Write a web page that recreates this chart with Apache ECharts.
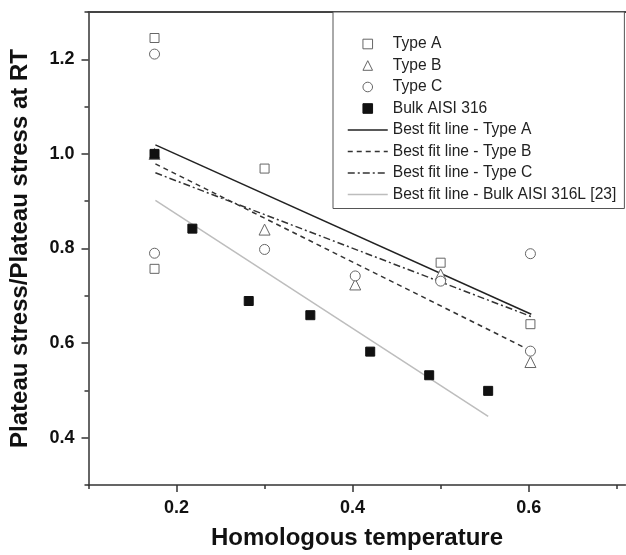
<!DOCTYPE html>
<html lang="en">
<head>
    <meta charset="UTF-8">
    <title>Plateau stress vs homologous temperature</title>
    <style>
        * { margin: 0; padding: 0; }
        body { background: #fff; }
        #chart { width: 626px; height: 555px; }
    </style>
</head>
<body>
    <div id="chart"></div>

    <script src="https://cdn.jsdelivr.net/npm/echarts@6/dist/echarts.min.js"></script>
    <script>
        // measured points [homologous temperature, normalised plateau stress]
        const typeA = [[0.175, 1.245], [0.175, 0.757], [0.300, 0.969], [0.500, 0.770], [0.602, 0.640]];
        const typeB = [[0.175, 1.000], [0.300, 0.840], [0.403, 0.724], [0.500, 0.745], [0.602, 0.560]];
        const typeC = [[0.175, 1.211], [0.175, 0.790], [0.300, 0.798], [0.403, 0.742], [0.500, 0.731], [0.602, 0.789], [0.602, 0.583]];
        const bulk = [[0.175, 1.000], [0.218, 0.842], [0.282, 0.689], [0.352, 0.659], [0.420, 0.582], [0.487, 0.532], [0.554, 0.499]];

        // best fit lines (end points)
        const fitA = [[0.176, 1.019], [0.603, 0.661]];
        const fitB = [[0.176, 0.979], [0.598, 0.588]];
        const fitC = [[0.176, 0.960], [0.603, 0.656]];
        const fitBulk = [[0.176, 0.902], [0.554, 0.445]];

        // ticks
        const xMajorTicks = [0.2, 0.4, 0.6];
        const xMinorTicks = [0.1, 0.3, 0.5, 0.7];
        const yMajorTicks = [0.4, 0.6, 0.8, 1.0, 1.2];
        const yMinorTicks = [0.3, 0.5, 0.7, 0.9, 1.1, 1.3];

        const FONT = 'Liberation Sans, Arial, sans-serif';
        const axisColor = '#333';
        const markerGray = '#666';

        const tickLabel = {
            fontFamily: FONT, fontSize: 18, fontWeight: 'bold', color: '#111',
            formatter: v => Number(v).toFixed(1)
        };
        const axisTitle = { fontFamily: FONT, fontSize: 24, fontWeight: 'bold', color: '#111' };

        // hollow markers are drawn as line series with no visible line,
        // so the legend keeps the marker square-sized
        function markers(name, data, symbol, size, fill, stroke) {
            return {
                name: name, type: 'line', data: data,
                symbol: symbol, symbolSize: size, showSymbol: true,
                lineStyle: { width: 0, opacity: 0 },
                itemStyle: { color: fill, borderColor: stroke, borderWidth: 1 },
                z: 3
            };
        }
        function fitLine(name, data, color, type) {
            return {
                name: name, type: 'line', data: data, symbol: 'none',
                lineStyle: { color: color, width: 1.5, type: type },
                itemStyle: { color: color, opacity: 0 },
                z: 2
            };
        }

        const chart = echarts.init(document.getElementById('chart'));
        chart.setOption({
            animation: false,
            backgroundColor: '#fff',
            grid: { left: 88.5, right: 0.5, top: 12, bottom: 69 },
            legend: {
                orient: 'vertical',
                left: 333, top: 12,
                padding: [24, 8, 6, 14],
                itemWidth: 40, itemHeight: 12, itemGap: 5.5,
                backgroundColor: '#fff',
                borderColor: '#555', borderWidth: 1,
                selectedMode: false,
                itemStyle: { borderWidth: 1 },
                lineStyle: { width: 'inherit' },
                textStyle: { fontFamily: FONT, fontSize: 15.6, color: '#222' },
                data: ['Type A', 'Type B', 'Type C', 'Bulk AISI 316',
                    'Best fit line - Type A', 'Best fit line - Type B',
                    'Best fit line - Type C', 'Best fit line - Bulk AISI 316L [23]']
            },
            xAxis: [
                {
                    type: 'value', min: 0.1, max: 0.71, position: 'bottom',
                    name: 'Homologous temperature', nameLocation: 'middle', nameGap: 41,
                    nameTextStyle: axisTitle,
                    axisLine: { lineStyle: { color: axisColor, width: 1.5 } },
                    axisTick: { customValues: xMajorTicks, length: 7, lineStyle: { color: axisColor, width: 1.5 } },
                    axisLabel: Object.assign({ customValues: xMajorTicks, margin: 14 }, tickLabel),
                    splitLine: { show: false }
                },
                {
                    type: 'value', min: 0.1, max: 0.71, position: 'bottom',
                    axisLine: { show: false },
                    axisTick: { customValues: xMinorTicks, length: 4, lineStyle: { color: axisColor, width: 1.5 } },
                    axisLabel: { show: false },
                    splitLine: { show: false }
                },
                {
                    type: 'value', min: 0.1, max: 0.71, position: 'top',
                    axisLine: { lineStyle: { color: '#444', width: 2 } },
                    axisTick: { show: false },
                    axisLabel: { show: false },
                    splitLine: { show: false }
                }
            ],
            yAxis: [
                {
                    type: 'value', min: 0.3, max: 1.3, position: 'left',
                    name: 'Plateau stress/Plateau stress at RT', nameLocation: 'middle',
                    nameRotate: 90, nameGap: 56,
                    nameTextStyle: axisTitle,
                    axisLine: { show: true, lineStyle: { color: axisColor, width: 1.5 } },
                    axisTick: { show: true, customValues: yMajorTicks, length: 7, lineStyle: { color: axisColor, width: 1.5 } },
                    axisLabel: Object.assign({ customValues: yMajorTicks, margin: 14 }, tickLabel),
                    splitLine: { show: false }
                },
                {
                    type: 'value', min: 0.3, max: 1.3, position: 'left',
                    axisLine: { show: false },
                    axisTick: { show: true, customValues: yMinorTicks, length: 4, lineStyle: { color: axisColor, width: 1.5 } },
                    axisLabel: { show: false },
                    splitLine: { show: false }
                }
            ],
            series: [
                markers('Type A', typeA, 'rect', 9, '#fff', markerGray),
                markers('Type B', typeB, 'triangle', 11, '#fff', markerGray),
                markers('Type C', typeC, 'circle', 10, '#fff', markerGray),
                markers('Bulk AISI 316', bulk, 'rect', 9, '#111', '#111'),
                fitLine('Best fit line - Type A', fitA, '#222', 'solid'),
                fitLine('Best fit line - Type B', fitB, '#333', [5, 4]),
                fitLine('Best fit line - Type C', fitC, '#333', [7, 3, 2, 3]),
                fitLine('Best fit line - Bulk AISI 316L [23]', fitBulk, '#bdbdbd', 'solid')
            ]
        });
    </script>
</body>
</html>
